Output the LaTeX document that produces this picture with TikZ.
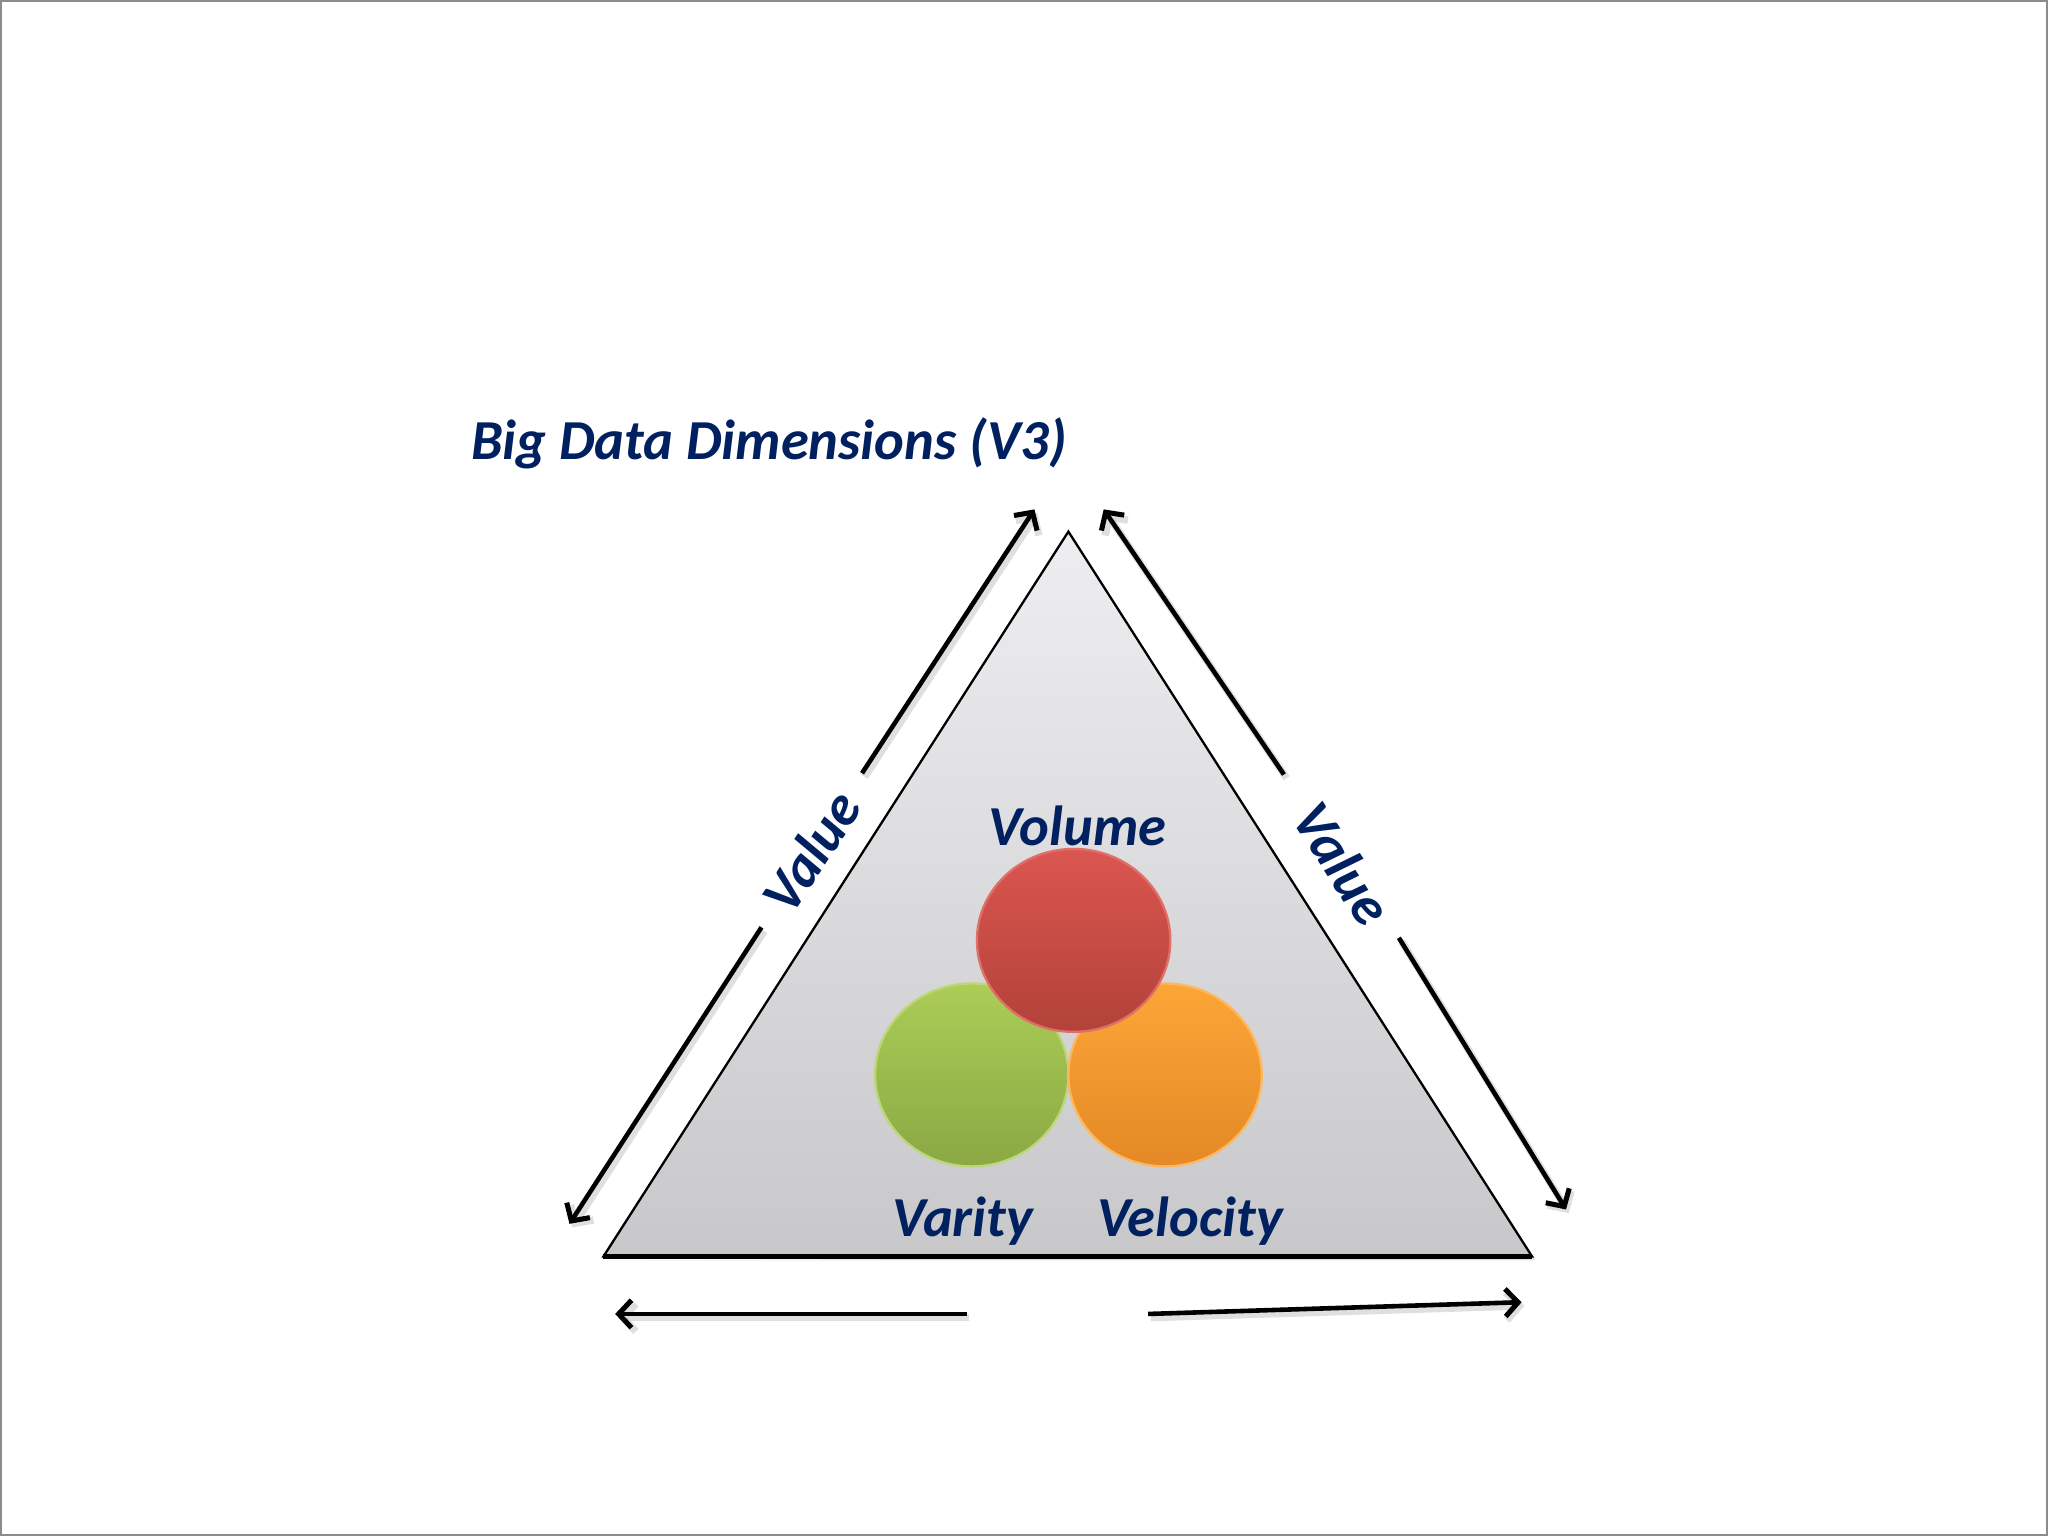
\documentclass[tikz,border=0pt]{standalone}
\usepackage{fontspec}
\setmainfont{Carlito}
\usetikzlibrary{arrows.meta,shapes.geometric,calc}
\definecolor{navy}{RGB}{0,32,96}
\definecolor{redtop}{RGB}{219,86,80}
\definecolor{redbot}{RGB}{178,66,57}
\definecolor{grtop}{RGB}{172,205,86}
\definecolor{grbot}{RGB}{138,168,68}
\definecolor{ortop}{RGB}{252,166,55}
\definecolor{orbot}{RGB}{228,137,38}
\definecolor{tritop}{RGB}{238,238,240}
\definecolor{tribot}{RGB}{200,200,202}
\tikzset{
  lbl/.style={font=\fontsize{12.3}{14}\selectfont\bfseries\itshape, text=navy, inner sep=0pt},
  arr/.style={line width=1pt, -{Straight Barb[length=2.8pt,width=6pt,line width=1.1pt]}},
  arrshadow/.style={line width=1.6pt, draw=black!25, opacity=0.5, -{Straight Barb[length=2.8pt,width=6pt,line width=1.6pt]}},
  ball/.style={ellipse, minimum width=1.48cm, minimum height=1.40cm, inner sep=0pt, line width=0.5pt}
}
\begin{document}
\begin{tikzpicture}[x=0.01cm,y=-0.01cm]
\useasboundingbox (0,0) rectangle (1568,1176);
\draw[black!45, line width=0.5pt] (1,1) rectangle (1567,1175);

% triangle
\coordinate (A) at (818,407);
\coordinate (B) at (462,962);
\coordinate (C) at (1173,962);
\fill[black!12] ($(B)+(2,3)$) -- ($(C)+(2,3)$) -- ($(C)+(2,0)$) -- cycle;
\shade[top color=tritop, bottom color=tribot] (A) -- (B) -- (C) -- cycle;
\draw[line width=0.5pt] (A) -- (B) -- (C) -- cycle;
\draw[line width=0.9pt] (B) -- (C);

% circles
\node[ball, top color=grtop, bottom color=grbot, draw=grtop!80!white] (var) at (744,823) {};
\node[ball, top color=ortop, bottom color=orbot, draw=ortop!80!white] (vel) at (892,823) {};
\node[ball, top color=redtop, bottom color=redbot, draw=redtop!85!white] (vol) at (822,720) {};

% labels
\node[lbl, anchor=base west] (title) at (360,352) {Big Data Dimensions (V3)};
\node[lbl, anchor=base] (tvol) at (825,647) {Volume};
\node[lbl, anchor=base] (tvar) at (737,947) {Varity};
\node[lbl, anchor=base] (tvel) at (911,947) {Velocity};
\node[lbl, rotate=57] (valL) at (621,652) {Value};
\node[lbl, rotate=-57] (valR) at (1028,661) {Value};

% arrow coordinates
\coordinate (l1s) at (660,592); \coordinate (l1e) at (792,390);
\coordinate (l2s) at (583,710); \coordinate (l2e) at (436,937);
\coordinate (r1s) at (983,593); \coordinate (r1e) at (845,390);
\coordinate (r2s) at (1071,718); \coordinate (r2e) at (1199,926);
\coordinate (b1s) at (740,1006); \coordinate (b1e) at (471,1006);
\coordinate (b2s) at (879,1006); \coordinate (b2e) at (1165,997);

\foreach \s/\e in {l1s/l1e,l2s/l2e,r1s/r1e,r2s/r2e,b1s/b1e,b2s/b2e}{
  \draw[arrshadow, transform canvas={shift={(0.6pt,-0.8pt)}}] (\s) -- (\e);
}
\foreach \s/\e in {l1s/l1e,l2s/l2e,r1s/r1e,r2s/r2e,b1s/b1e,b2s/b2e}{
  \draw[arr] (\s) -- (\e);
}
\end{tikzpicture}
\end{document}
